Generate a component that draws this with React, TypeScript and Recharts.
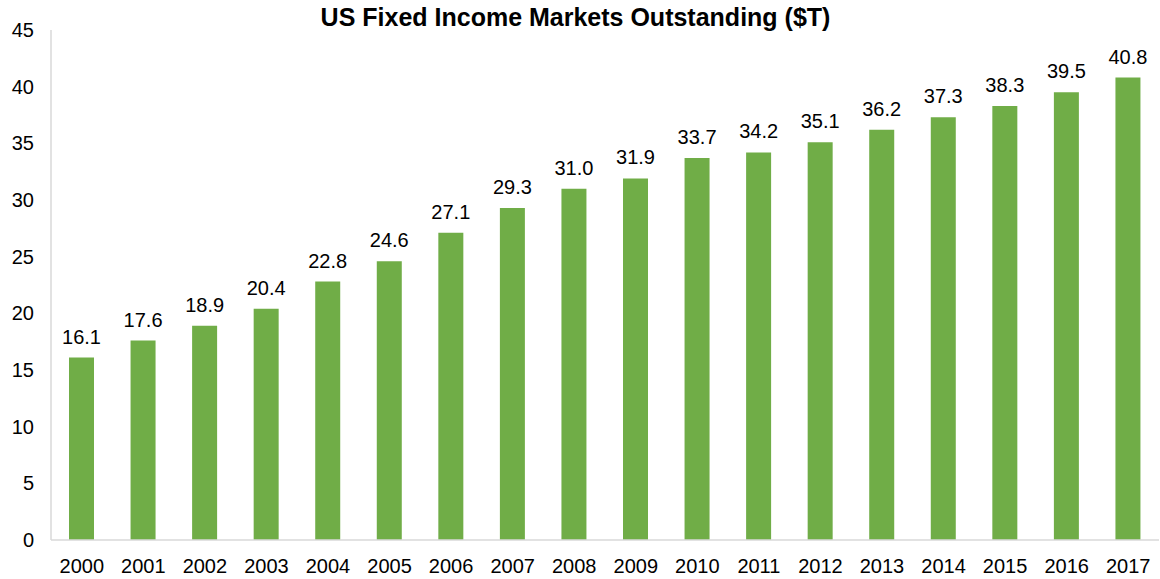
import { BarChart, Bar, XAxis, YAxis, LabelList } from "recharts";

const years = [
  "2000", "2001", "2002", "2003", "2004", "2005", "2006", "2007", "2008",
  "2009", "2010", "2011", "2012", "2013", "2014", "2015", "2016", "2017",
];
const outstanding = [
  16.1, 17.6, 18.9, 20.4, 22.8, 24.6, 27.1, 29.3, 31.0,
  31.9, 33.7, 34.2, 35.1, 36.2, 37.3, 38.3, 39.5, 40.8,
];
const yTicks = [0, 5, 10, 15, 20, 25, 30, 35, 40, 45];

const FONT = '"Liberation Sans", Arial, sans-serif';

export default function App() {
  const data = years.map((year, i) => ({ year, value: outstanding[i] }));

  return (
    <div
      style={{
        position: "absolute",
        left: 0,
        top: 0,
        width: 1160,
        height: 579,
        background: "#fff",
        fontFamily: FONT,
      }}
    >
      <div
        style={{
          position: "absolute",
          top: 5,
          left: 0,
          width: 1151,
          textAlign: "center",
          fontSize: 25,
          lineHeight: "25px",
          fontWeight: "bold",
          color: "#000",
        }}
      >
        US Fixed Income Markets Outstanding ($T)
      </div>
      <BarChart
        width={1160}
        height={579}
        data={data}
        margin={{ top: 30, right: 1, bottom: 0, left: 0 }}
      >
        <XAxis
          dataKey="year"
          height={39}
          tickLine={false}
          tickSize={0}
          tickMargin={19}
          axisLine={{ stroke: "#d9d9d9", strokeWidth: 1.5 }}
          tick={{ fontSize: 20, fill: "#000", fontFamily: FONT }}
          interval={0}
        />
        <YAxis
          width={51}
          domain={[0, 45]}
          ticks={yTicks}
          tickLine={false}
          tickSize={0}
          tickMargin={17}
          axisLine={{ stroke: "#d9d9d9", strokeWidth: 1.5 }}
          tick={{ fontSize: 20, fill: "#000", fontFamily: FONT }}
        />
        <Bar dataKey="value" fill="#70ad47" barSize={25} isAnimationActive={false}>
          <LabelList
            dataKey="value"
            position="top"
            offset={14}
            fill="#000"
            fontSize={20}
            fontFamily={FONT}
            formatter={(v: any) => Number(v).toFixed(1)}
          />
        </Bar>
      </BarChart>
    </div>
  );
}
